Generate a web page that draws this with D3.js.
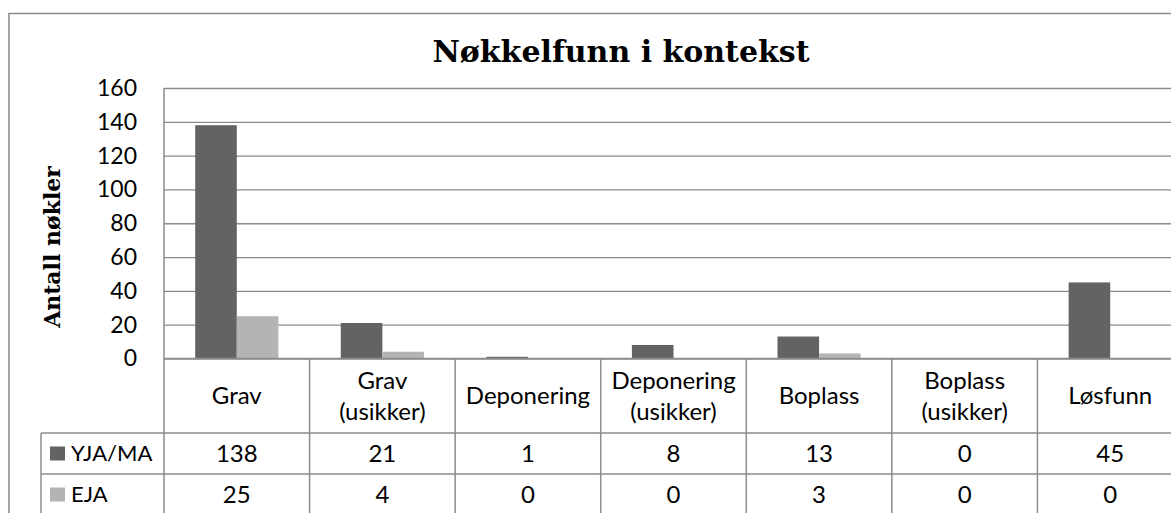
<!DOCTYPE html>
<html>
<head>
<meta charset="utf-8">
<script src="https://cdn.jsdelivr.net/npm/d3@7"></script>
<style>
  body { margin: 0; background: #fff; }
  text { font-family: Lato, sans-serif; }
</style>
</head>
<body>
<svg id="chart" width="1171" height="513"></svg>
<script>
const width = 1171;
const height = 513;

// Data
const categories = ["Grav", "Grav\n(usikker)", "Deponering", "Deponering\n(usikker)", "Boplass", "Boplass\n(usikker)", "Løsfunn"];
const seriesNames = ["YJA/MA", "EJA"];
const yjaValues = [138, 21, 1, 8, 13, 0, 45];
const ejaValues = [25, 4, 0, 0, 3, 0, 0];
const yTicks = [0, 20, 40, 60, 80, 100, 120, 140, 160];
const colors = ["#636363", "#b4b4b4"];

const plotLeft = 164;
const plotRight = 1183;
const plotTop = 88;
const plotBottom = 358.5;
const catRowBottom = 433;
const rowHeight = 41;
const legendLeft = 41;
const lineColor = "#8c8c8c";
const bodySize = "24px";

const svg = d3.select("#chart");

const series = [yjaValues, ejaValues];

// Scales
const x = d3.scaleBand()
  .domain(categories)
  .range([plotLeft, plotRight])
  .padding(0);

// Excel style gap width 150%
const xs = d3.scaleBand()
  .domain(seriesNames)
  .range([0, x.bandwidth()])
  .paddingInner(0)
  .paddingOuter(0.75);

const y = d3.scaleLinear()
  .domain([0, 160])
  .range([plotBottom, plotTop]);

// Outer chart border
svg.append("rect")
  .attr("x", 9)
  .attr("y", 13.5)
  .attr("width", width + 20)
  .attr("height", height + 20)
  .attr("fill", "none")
  .attr("stroke", "#8a8a8a")
  .attr("stroke-width", 1.5);

// Title
svg.append("text")
  .attr("x", 621)
  .attr("y", 62)
  .attr("text-anchor", "middle")
  .style("font-family", "'DejaVu Serif', serif")
  .style("font-weight", "bold")
  .style("font-size", "30px")
  .text("Nøkkelfunn i kontekst");

// Gridlines
svg.append("g")
  .attr("transform", `translate(${plotLeft},0)`)
  .call(d3.axisLeft(y).tickValues(yTicks).tickSize(-(plotRight - plotLeft)).tickFormat(""))
  .call((g) => g.select(".domain").remove())
  .call((g) => g.selectAll(".tick line").attr("stroke", lineColor).attr("stroke-width", 1.3));

// Plot area left edge
svg.append("line")
  .attr("x1", plotLeft).attr("x2", plotLeft)
  .attr("y1", plotTop).attr("y2", height + 5)
  .attr("stroke", lineColor)
  .attr("stroke-width", 1.5);

// Y axis labels
svg.append("g")
  .attr("transform", `translate(${plotLeft},0)`)
  .call(d3.axisLeft(y).tickValues(yTicks).tickSize(0).tickPadding(27))
  .call((g) => g.select(".domain").remove())
  .call((g) => g.selectAll("text")
    .attr("fill", "#000")
    .style("font-family", "Lato, sans-serif")
    .style("font-size", "23px"));

// Y axis title
svg.append("text")
  .attr("transform", `translate(60,247) rotate(-90)`)
  .attr("text-anchor", "middle")
  .style("font-family", "'DejaVu Serif', serif")
  .style("font-weight", "bold")
  .style("font-size", "22px")
  .text("Antall nøkler");

// Bars
const groups = svg.append("g")
  .selectAll("g")
  .data(series)
  .join("g")
  .attr("fill", (d, i) => colors[i]);

groups.selectAll("rect")
  .data((d, i) => d.map((v, j) => ({ cat: categories[j], name: seriesNames[i], value: v })))
  .join("rect")
  .attr("x", (d) => x(d.cat) + xs(d.name))
  .attr("width", xs.bandwidth())
  .attr("y", (d) => y(d.value))
  .attr("height", (d) => y(0) - y(d.value));

// Data table: horizontal lines
const tableRows = [plotBottom, catRowBottom, catRowBottom + rowHeight, catRowBottom + 2 * rowHeight];
svg.append("g")
  .selectAll("line")
  .data(tableRows)
  .join("line")
  .attr("x1", (d, i) => (i === 0 ? plotLeft : legendLeft))
  .attr("x2", plotRight)
  .attr("y1", (d) => d)
  .attr("y2", (d) => d)
  .attr("stroke", lineColor)
  .attr("stroke-width", 1.5);

// Data table: vertical lines
svg.append("g")
  .selectAll("line")
  .data(categories)
  .join("line")
  .attr("x1", (d) => x(d) + x.bandwidth())
  .attr("x2", (d) => x(d) + x.bandwidth())
  .attr("y1", plotBottom)
  .attr("y2", height + 5)
  .attr("stroke", lineColor)
  .attr("stroke-width", 1.5);

svg.append("line")
  .attr("x1", legendLeft).attr("x2", legendLeft)
  .attr("y1", catRowBottom).attr("y2", height + 5)
  .attr("stroke", lineColor)
  .attr("stroke-width", 1.5);

// Category labels
const catCenter = (plotBottom + catRowBottom) / 2;
svg.append("g")
  .selectAll("text")
  .data(categories)
  .join("text")
  .attr("text-anchor", "middle")
  .style("font-size", bodySize)
  .each(function (d) {
    const lines = d.split("\n");
    const t = d3.select(this);
    lines.forEach((line, i) => {
      t.append("tspan")
        .attr("x", x(d) + x.bandwidth() / 2)
        .attr("y", catCenter + (i - (lines.length - 1) / 2) * 31.5)
        .attr("dy", "0.36em")
        .text(line);
    });
  });

// Value rows with legend keys
series.forEach((values, i) => {
  const rowCenter = catRowBottom + rowHeight * i + rowHeight / 2;

  svg.append("rect")
    .attr("x", 50)
    .attr("y", rowCenter - 7)
    .attr("width", 15)
    .attr("height", 14)
    .attr("fill", colors[i]);

  svg.append("text")
    .attr("x", 71)
    .attr("y", rowCenter)
    .attr("dy", "0.36em")
    .style("font-size", "22px")
    .text(seriesNames[i]);

  svg.append("g")
    .selectAll("text")
    .data(values)
    .join("text")
    .attr("x", (d, j) => x(categories[j]) + x.bandwidth() / 2)
    .attr("y", rowCenter)
    .attr("dy", "0.36em")
    .attr("text-anchor", "middle")
    .style("font-size", bodySize)
    .text((d) => d);
});
</script>
</body>
</html>
